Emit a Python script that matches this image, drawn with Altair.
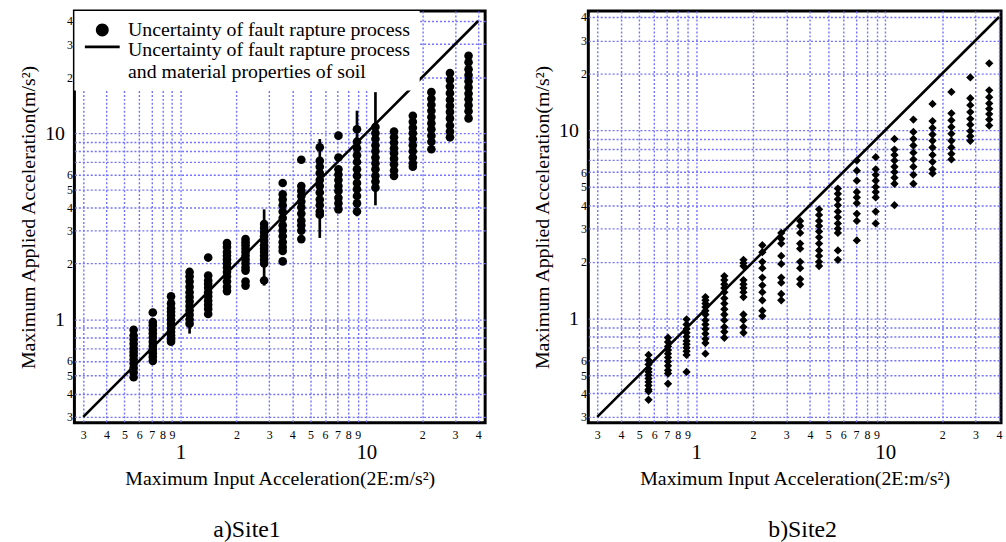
import altair as alt
import pandas as pd

FONT = "Liberation Serif"

# x positions of the input-acceleration columns (same for both sites)
X_INPUT = [0.56, 0.71, 0.89, 1.12, 1.41, 1.78, 2.24, 2.82, 3.55, 4.47,
           5.62, 7.08, 8.91, 11.2, 14.1, 17.8, 22.4, 28.2, 35.5]

# Site 1: applied accelerations, one list per input column
SITE1_Y = [
    [0.49, 0.52, 0.55, 0.58, 0.61, 0.64, 0.67, 0.70, 0.74, 0.78, 0.82, 0.88],
    [0.60, 0.63, 0.66, 0.69, 0.72, 0.76, 0.80, 0.84, 0.88, 0.93, 0.97, 1.09],
    [0.76, 0.78, 0.82, 0.86, 0.90, 0.95, 1.00, 1.05, 1.10, 1.15, 1.22, 1.33],
    [0.95, 1.00, 1.06, 1.12, 1.18, 1.25, 1.32, 1.40, 1.50, 1.60, 1.70, 1.80],
    [1.07, 1.14, 1.20, 1.26, 1.33, 1.40, 1.48, 1.55, 1.62, 1.72, 2.15],
    [1.42, 1.50, 1.60, 1.70, 1.80, 1.90, 2.00, 2.10, 2.20, 2.30, 2.45, 2.57],
    [1.52, 1.60, 1.83, 1.90, 2.00, 2.10, 2.20, 2.30, 2.40, 2.50, 2.60, 2.70],
    [1.62, 2.00, 2.10, 2.20, 2.30, 2.40, 2.50, 2.65, 2.80, 2.95, 3.10, 3.25],
    [2.05, 2.33, 2.45, 2.60, 2.80, 3.00, 3.20, 3.50, 3.80, 4.10, 4.40, 4.70, 5.40],
    [2.70, 3.00, 3.20, 3.40, 3.70, 4.00, 4.30, 4.60, 4.90, 5.20, 7.20],
    [3.65, 3.80, 4.10, 4.40, 4.80, 5.20, 5.60, 6.10, 6.60, 7.10, 8.40],
    [3.90, 4.20, 4.50, 4.90, 5.20, 5.60, 6.00, 6.40, 7.40, 9.70],
    [3.80, 4.20, 4.60, 5.00, 5.40, 5.90, 6.40, 7.00, 7.60, 8.30, 9.00, 10.5],
    [5.10, 5.50, 5.90, 6.40, 6.90, 7.40, 8.00, 8.60, 9.30, 10.0, 10.8],
    [5.90, 6.30, 6.80, 7.30, 7.80, 8.30, 8.90, 9.50, 10.2],
    [6.60, 6.90, 7.40, 8.00, 8.60, 9.30, 10.0, 10.7, 11.5, 12.4],
    [8.20, 9.00, 9.70, 10.5, 11.3, 12.2, 13.2, 14.2, 15.3, 16.6],
    [9.50, 10.2, 11.0, 12.0, 13.0, 14.0, 15.1, 16.4, 17.8, 19.3, 21.0],
    [12.0, 13.1, 14.1, 15.2, 16.3, 17.6, 19.0, 20.5, 22.0, 24.0, 26.0],
]

# Site 1: ranges including soil-property uncertainty (vertical lines)
SITE1_RULE_X = [1.12, 2.82, 5.62, 8.91, 11.2]
SITE1_RULE_LO = [0.84, 1.52, 2.74, 3.58, 4.10]
SITE1_RULE_HI = [1.89, 3.90, 9.30, 13.2, 16.6]

# Site 2: applied accelerations, one list per input column
SITE2_Y = [
    [0.37, 0.41, 0.42, 0.44, 0.46, 0.48, 0.50, 0.52, 0.54, 0.57, 0.60, 0.64],
    [0.45, 0.51, 0.53, 0.56, 0.59, 0.62, 0.65, 0.68, 0.71, 0.75, 0.79],
    [0.52, 0.64, 0.67, 0.70, 0.73, 0.76, 0.80, 0.84, 0.88, 0.93, 0.99],
    [0.65, 0.74, 0.78, 0.83, 0.88, 0.93, 0.98, 1.05, 1.10, 1.15, 1.20, 1.25, 1.30],
    [0.79, 0.85, 0.90, 0.98, 1.05, 1.12, 1.20, 1.28, 1.38, 1.45, 1.52, 1.60, 1.68],
    [0.84, 0.90, 0.98, 1.05, 1.30, 1.38, 1.45, 1.52, 1.60, 1.90, 1.97, 2.05],
    [1.03, 1.10, 1.25, 1.38, 1.50, 1.65, 1.85, 2.00, 2.25, 2.45],
    [1.25, 1.35, 1.55, 1.65, 1.95, 2.15, 2.50, 2.65, 2.85],
    [1.52, 1.62, 1.85, 2.00, 2.35, 2.50, 2.85, 3.10, 3.30],
    [1.90, 2.00, 2.15, 2.30, 2.50, 2.70, 2.90, 3.10, 3.30, 3.55, 3.80],
    [2.05, 2.30, 2.85, 3.00, 3.20, 3.45, 3.70, 4.00, 4.30, 4.60, 4.90],
    [2.60, 3.30, 3.60, 4.10, 4.40, 4.70, 5.40, 6.10, 6.90],
    [3.20, 3.70, 4.40, 4.70, 5.00, 5.40, 5.80, 6.20, 7.20],
    [4.00, 5.20, 5.60, 6.00, 6.40, 6.90, 7.40, 7.90, 9.00],
    [5.20, 5.80, 6.40, 7.00, 7.60, 8.30, 9.00, 9.80, 11.4],
    [5.90, 6.20, 6.80, 7.40, 8.10, 8.80, 9.50, 10.3, 11.2, 13.8],
    [7.00, 7.50, 8.10, 8.80, 9.60, 10.4, 11.3, 12.3, 16.0],
    [8.80, 9.30, 9.90, 10.7, 11.5, 12.5, 13.6, 14.8, 19.1],
    [10.6, 11.4, 12.2, 13.0, 13.9, 15.0, 16.3, 22.7],
]

# 1:1 reference line
ONE_TO_ONE = [0.3, 40]

TICKS = [0.3, 0.4, 0.5, 0.6, 0.7, 0.8, 0.9, 1, 2, 3, 4, 5, 6, 7, 8, 9, 10, 20, 30, 40]
Y_HIDDEN = [0.7, 0.8, 0.9, 7, 8, 9]

LEGEND_LABELS = [
    "Uncertainty of fault rapture process",
    "Uncertainty of fault rapture process|and material properties of soil",
]
X_TITLE = "Maximum Input Acceleration(2E:m/s²)"
Y_TITLE = "Maximum Applied Acceleration(m/s²)"
CAPTIONS = ["a)Site1", "b)Site2"]

GRID_COLOR = "#7272ff"
# legend symbols (unit coordinates, scaled by sqrt(symbolSize)/2 = 6.5 px)
CIRCLE_PATH = "M0.4,0A1,1,0,1,1,2.4,0A1,1,0,1,1,0.4,0Z"
LINE_PATH = "M-1.3,-0.65H4.1V-0.25H-1.3Z"


def points_frame(ys):
    rows = []
    for x, col in zip(X_INPUT, ys):
        for y in col:
            rows.append({"x": x, "y": y})
    return pd.DataFrame(rows)


site1_df = points_frame(SITE1_Y)
site2_df = points_frame(SITE2_Y)
rules_df = pd.DataFrame({"x": SITE1_RULE_X, "lo": SITE1_RULE_LO, "hi": SITE1_RULE_HI})
line_df = pd.DataFrame({"x": ONE_TO_ONE, "y": ONE_TO_ONE})
legend_df = pd.DataFrame({"series": LEGEND_LABELS})

BIG = "datum.value == 1 || datum.value == 10"
MANT = "format(datum.value / pow(10, floor(log(datum.value) / LN10 + 1e-9)), '.0f')"
X_LABEL_EXPR = f"({BIG}) ? format(datum.value, 'd') : {MANT}"
Y_LABEL_EXPR = f"indexof({Y_HIDDEN}, datum.value) >= 0 ? '' : (({BIG}) ? format(datum.value, 'd') : {MANT})"

common_axis = dict(
    values=TICKS, ticks=False, domain=False, grid=True,
    gridColor=GRID_COLOR, gridDash=[2, 2], gridWidth=1.4,
    labelFont=FONT, labelColor="black", labelOverlap=False, labelFlush=False,
    titleFont=FONT, titleFontSize=20, titleFontWeight="normal", titleColor="black",
)


def x_enc(domain):
    return alt.X(
        "x:Q",
        scale=alt.Scale(type="log", domain=domain, nice=False),
        axis=alt.Axis(
            title=X_TITLE, labelExpr=X_LABEL_EXPR,
            labelFontSize={"condition": {"test": BIG, "value": 21}, "value": 12},
            labelPadding={"condition": {"test": BIG, "value": 19}, "value": 7},
            minExtent=34, maxExtent=34, titlePadding=12, **common_axis,
        ),
    )


def y_enc(domain):
    return alt.Y(
        "y:Q",
        scale=alt.Scale(type="log", domain=domain, nice=False),
        axis=alt.Axis(
            title=Y_TITLE, labelExpr=Y_LABEL_EXPR,
            labelFontSize={"condition": {"test": BIG, "value": 20}, "value": 12},
            labelPadding={"condition": {"test": BIG, "value": 10}, "value": 2},
            minExtent=24, maxExtent=24, titlePadding=12, **common_axis,
        ),
    )


def caption(text, dx):
    return alt.TitleParams(
        text=text, orient="bottom", anchor="middle", frame="group", dx=dx,
        offset=30, font=FONT, fontSize=24, fontWeight="normal", color="black",
    )


# ---------- Site 1 ----------
X1 = [0.2688, 43.6]
Y1 = [0.279, 45.2]

p1 = alt.Chart(site1_df).mark_circle(size=76, color="black", opacity=1).encode(
    x=x_enc(X1), y=y_enc(Y1)
)
r1 = alt.Chart(rules_df).mark_rule(color="black", strokeWidth=2.7).encode(
    x="x:Q", y="lo:Q", y2="hi:Q"
)
l1 = alt.Chart(line_df).mark_line(color="black", strokeWidth=2.6).encode(x="x:Q", y="y:Q")
leg = alt.Chart(legend_df).transform_filter("false").mark_point(
    filled=True, color="black", size=169, opacity=1
).encode(
    shape=alt.Shape(
        "series:N",
        scale=alt.Scale(domain=LEGEND_LABELS, range=[CIRCLE_PATH, LINE_PATH]),
        legend=alt.Legend(
            title=None, orient="top-left", offset=0, padding=9, fillColor="white",
            labelFont=FONT, labelFontSize=20, labelColor="black", labelLimit=500,
            labelOffset=25, labelExpr="split(datum.label, '|')", rowPadding=-10,
            symbolSize=169, symbolFillColor="black", symbolStrokeWidth=0,
            symbolOpacity=1,
        ),
    )
)

left = alt.layer(p1, r1, l1, leg).properties(
    width=414, height=415, title=caption(CAPTIONS[0], -33)
)

# ---------- Site 2 ----------
X2 = [0.269, 41.0]
Y2 = [0.279, 43.0]

p2 = alt.Chart(site2_df).mark_point(
    shape="diamond", filled=True, size=70, color="black", opacity=1
).encode(x=x_enc(X2), y=y_enc(Y2))
l2 = alt.Chart(line_df).mark_line(color="black", strokeWidth=2.6).encode(x="x:Q", y="y:Q")

right = alt.layer(p2, l2).properties(
    width=416, height=415, title=caption(CAPTIONS[1], 8)
)

chart = alt.hconcat(left, right, spacing=44).properties(
    padding={"left": 17, "top": 7, "right": 0, "bottom": 0}
).configure_view(stroke="black", strokeWidth=3)

chart.save("out.html", embed_options={"renderer": "svg", "actions": False})
